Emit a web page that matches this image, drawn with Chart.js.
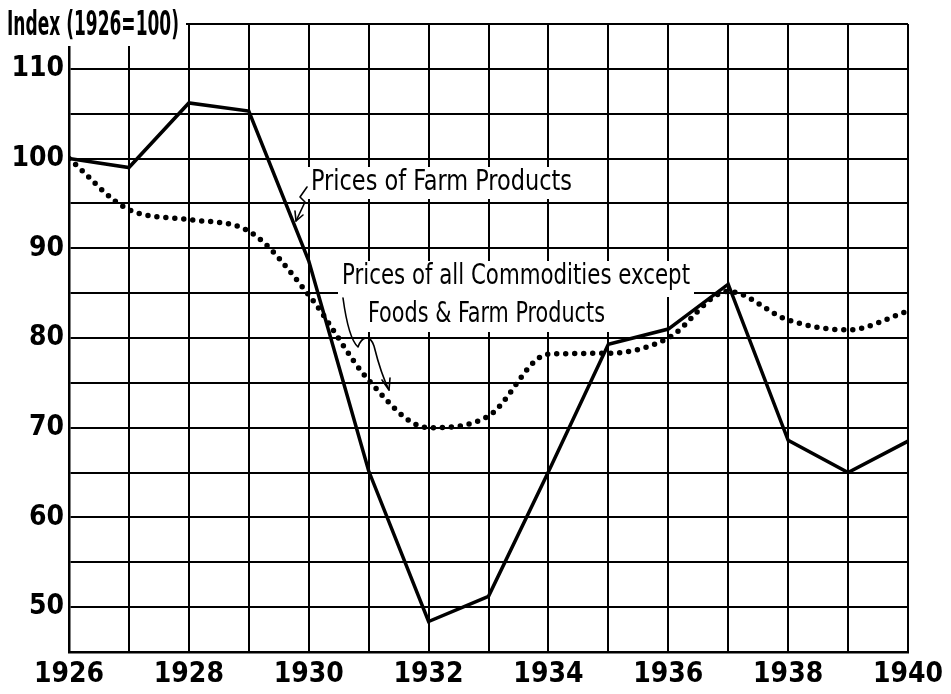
<!DOCTYPE html>
<html>
<head>
<meta charset="utf-8">
<script src="https://cdn.jsdelivr.net/npm/chart.js@4"></script>
<style>
  html, body { margin: 0; padding: 0; background: #fff; }
  #wrap { width: 951px; height: 694px; }
</style>
</head>
<body>
<div id="wrap"><canvas id="priceChart"></canvas></div>
<script>
var years = [1926, 1927, 1928, 1929, 1930, 1931, 1932, 1933, 1934, 1935, 1936, 1937, 1938, 1939, 1940];
var farmPrices = [100, 99.0, 106.2, 105.3, 88.6, 65.2, 48.4, 51.2, 65.1, 79.3, 81.0, 86.0, 68.6, 65.0, 68.5];
var otherPrices = [100, 94.3, 93.2, 91.9, 84.8, 75.3, 70.0, 71.3, 78.2, 78.3, 80.0, 85.2, 82.0, 80.9, 83.0];
var xLabelYears = [1926, 1928, 1930, 1932, 1934, 1936, 1938, 1940];
var yLabelValues = [50, 60, 70, 80, 90, 100, 110];

var tickFont = '"DejaVu Sans Condensed", sans-serif';
var noteFont = '"DejaVu Sans Condensed", sans-serif';

function toPoints(vals) {
    return years.map(function (yr, i) { return { x: yr, y: vals[i] }; });
}

// hand lettered notes, title and the little arrows
var notesPlugin = {
    id: 'notes',
    afterDraw: function (chart) {
        var ctx = chart.ctx;
        ctx.save();

        function blank(x, y, w, h) {
            ctx.fillStyle = '#fff';
            ctx.fillRect(x, y, w, h);
        }
        // text squeezed/stretched to the lettering width of the original
        function fitText(text, x, y, w, font) {
            ctx.font = font;
            var m = ctx.measureText(text).width;
            ctx.fillStyle = '#000';
            ctx.save();
            ctx.translate(x, y);
            ctx.scale(w / m, 1);
            ctx.textBaseline = 'middle';
            ctx.textAlign = 'left';
            ctx.fillText(text, 0, 0);
            ctx.restore();
        }

        // title in the top-left corner
        blank(0, 0, 186, 46);
        fitText('Index (1926=100)', 7, 26, 172, 'bold 33px ' + tickFont);

        blank(307, 167, 269, 32);
        fitText('Prices of Farm Products', 311, 183, 261, '28px ' + noteFont);
        blank(338, 261, 356, 36);
        blank(364, 297, 245, 35);
        fitText('Prices of all Commodities except', 342, 277, 348, '28px ' + noteFont);
        fitText('Foods & Farm Products', 368, 315, 237, '28px ' + noteFont);

        ctx.strokeStyle = '#000';
        ctx.lineWidth = 1.6;
        ctx.lineJoin = 'round';
        ctx.lineCap = 'round';
        // farm arrow
        ctx.beginPath();
        ctx.moveTo(307, 187);
        ctx.lineTo(300, 197);
        ctx.lineTo(305, 202);
        ctx.lineTo(296, 221);
        ctx.stroke();
        ctx.beginPath();
        ctx.moveTo(295, 211);
        ctx.lineTo(296, 221);
        ctx.lineTo(303, 215);
        ctx.stroke();
        // commodities arrow
        ctx.beginPath();
        ctx.moveTo(343, 298);
        ctx.bezierCurveTo(346, 320, 350, 340, 358, 347);
        ctx.bezierCurveTo(362, 336, 370, 334, 374, 346);
        ctx.bezierCurveTo(378, 362, 383, 378, 389, 390);
        ctx.stroke();
        ctx.beginPath();
        ctx.moveTo(382, 380);
        ctx.lineTo(389, 390);
        ctx.lineTo(390, 378);
        ctx.stroke();

        ctx.restore();
    }
};

var chartCanvas = document.getElementById('priceChart').getContext('2d');
var priceChart = new Chart(chartCanvas, {
    type: 'line',
    data: {
        datasets: [{
            label: 'Prices of Farm Products',
            data: toPoints(farmPrices),
            borderColor: '#000',
            borderWidth: 3.5,
            pointRadius: 0,
            tension: 0
        }, {
            label: 'Prices of all Commodities except Foods & Farm Products',
            data: toPoints(otherPrices),
            borderColor: '#000',
            borderWidth: 5.5,
            borderDash: [0, 9],
            borderCapStyle: 'round',
            pointRadius: 0,
            cubicInterpolationMode: 'monotone'
        }]
    },
    options: {
        responsive: true,
        maintainAspectRatio: false,
        animation: false,
        layout: { padding: { left: 0, right: 43, top: 24, bottom: 0 } },
        plugins: {
            legend: { display: false },
            tooltip: { enabled: false }
        },
        scales: {
            x: {
                type: 'linear',
                min: 1926,
                max: 1940,
                afterFit: function (s) { s.height = 42; },
                grid: { color: '#000', lineWidth: 2, drawTicks: false },
                border: { color: '#000', width: 2.5 },
                ticks: {
                    stepSize: 1,
                    autoSkip: false,
                    maxRotation: 0,
                    padding: 6,
                    color: '#000',
                    font: { family: tickFont, size: 28, weight: 'bold' },
                    callback: function (v) { return xLabelYears.indexOf(v) >= 0 ? String(v) : ''; }
                }
            },
            y: {
                min: 45,
                max: 115,
                afterFit: function (s) { s.width = 69; },
                grid: { color: '#000', lineWidth: 2, drawTicks: false },
                border: { color: '#000', width: 2.5 },
                ticks: {
                    stepSize: 5,
                    autoSkip: false,
                    padding: 5,
                    color: '#000',
                    font: { family: tickFont, size: 28, weight: 'bold' },
                    callback: function (v) { return yLabelValues.indexOf(v) >= 0 ? String(v) : ''; }
                }
            }
        }
    },
    plugins: [notesPlugin]
});
</script>
</body>
</html>
